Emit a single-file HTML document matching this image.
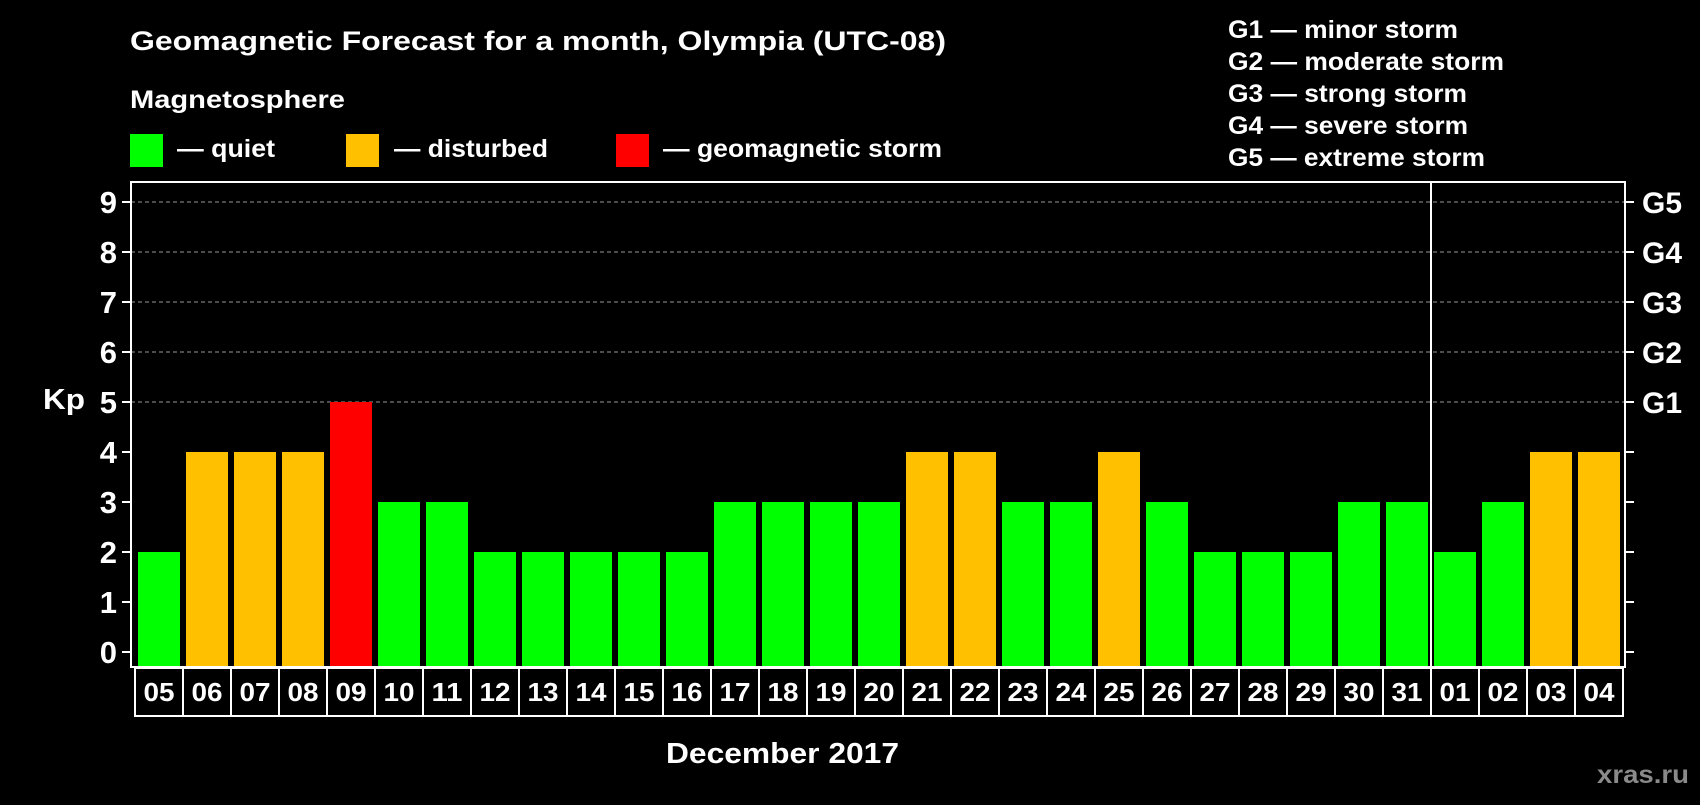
<!DOCTYPE html>
<html><head><meta charset="utf-8"><style>
body{margin:0;background:#000;width:1700px;height:800px;overflow:hidden;font-family:"Liberation Sans",Arial,sans-serif;font-weight:bold;color:#fff}
svg text{font-family:"Liberation Sans",Arial,sans-serif;font-weight:bold;fill:#fff}
</style></head><body>
<svg id="c" width="1700" height="800">
<text x="130" y="50" font-size="27" textLength="816" lengthAdjust="spacingAndGlyphs">Geomagnetic Forecast for a month, Olympia (UTC-08)</text>
<text x="130" y="108" font-size="25" textLength="215" lengthAdjust="spacingAndGlyphs">Magnetosphere</text>
<rect x="130" y="134" width="33" height="33" fill="#00ff00"/>
<text x="177" y="157" font-size="25" textLength="98" lengthAdjust="spacingAndGlyphs">— quiet</text>
<rect x="346" y="134" width="33" height="33" fill="#ffc000"/>
<text x="394" y="157" font-size="25" textLength="154" lengthAdjust="spacingAndGlyphs">— disturbed</text>
<rect x="616" y="134" width="33" height="33" fill="#ff0000"/>
<text x="663" y="157" font-size="25" textLength="279" lengthAdjust="spacingAndGlyphs">— geomagnetic storm</text>
<g font-size="25">
<text x="1228" y="38" textLength="230" lengthAdjust="spacingAndGlyphs">G1 — minor storm</text>
<text x="1228" y="70" textLength="276" lengthAdjust="spacingAndGlyphs">G2 — moderate storm</text>
<text x="1228" y="102" textLength="239" lengthAdjust="spacingAndGlyphs">G3 — strong storm</text>
<text x="1228" y="134" textLength="240" lengthAdjust="spacingAndGlyphs">G4 — severe storm</text>
<text x="1228" y="166" textLength="257" lengthAdjust="spacingAndGlyphs">G5 — extreme storm</text>
</g>
<text x="43" y="409" font-size="29" textLength="42" lengthAdjust="spacingAndGlyphs">Kp</text>
<text x="666" y="763" font-size="29" textLength="233" lengthAdjust="spacingAndGlyphs">December 2017</text>
<text x="1597" y="783" font-size="25" textLength="92" lengthAdjust="spacingAndGlyphs" style="fill:#8a8a8a">xras.ru</text>
<g id="plot"></g>
</svg>
<script>
const days=["05","06","07","08","09","10","11","12","13","14","15","16","17","18","19","20","21","22","23","24","25","26","27","28","29","30","31","01","02","03","04"];
const kp=[2,4,4,4,5,3,3,2,2,2,2,2,3,3,3,3,4,4,3,3,4,3,2,2,2,3,3,2,3,4,4];
const yTicks=[0,1,2,3,4,5,6,7,8,9];
const gLabels=["G1","G2","G3","G4","G5"];
const NS="http://www.w3.org/2000/svg";
const g=document.getElementById('plot');
const L=131,R=1625,T=182,B=667,X0=138,SLOT=48,BW=42;
const y=v=>652-v*50;
const x=i=>X0+i*SLOT;
function mk(t,a){const e=document.createElementNS(NS,t);for(const k in a)e.setAttribute(k,a[k]);g.appendChild(e);return e;}
yTicks.forEach(v=>{
 if(v>=5){const l=mk('line',{x1:L,x2:R,y1:y(v),y2:y(v),stroke:'#999','stroke-dasharray':'4,3','stroke-width':1});
 
 }
 const t1=mk('line',{x1:L-9,x2:L,y1:y(v),y2:y(v),stroke:'#fff','stroke-width':2});
 
 
 const t2=mk('line',{x1:R,x2:R+9,y1:y(v),y2:y(v),stroke:'#fff','stroke-width':2});
 
 
 const tx=mk('text',{x:117,y:y(v)+11,'font-size':31,'text-anchor':'end'});tx.textContent=v;
 
 
});
gLabels.forEach((s,i)=>{const tx=mk('text',{x:1642,y:y(5+i)+11,'font-size':30,textLength:40,lengthAdjust:'spacingAndGlyphs'});tx.textContent=s;
 
 });
kp.forEach((v,i)=>{
 const col=v>=5?'#ff0000':v>=4?'#ffc000':'#00ff00';
 const r=mk('rect',{x:x(i),y:y(v),width:BW,height:B-y(v),fill:col});
 
 
 const b=mk('rect',{x:x(i)-3,y:B+1,width:SLOT,height:48,fill:'none',stroke:'#fff','stroke-width':2});
 
 
 const t=mk('text',{x:x(i)+BW/2,y:B+34,'font-size':26,'text-anchor':'middle',textLength:31,lengthAdjust:'spacingAndGlyphs'});t.textContent=days[i];
 
 
});
const f=mk('rect',{x:L,y:T,width:R-L,height:B-T,fill:'none',stroke:'#fff','stroke-width':2});


const sep=x(days.indexOf("01"))-3;
const s=mk('line',{x1:sep,x2:sep,y1:T,y2:B+49,stroke:'#fff','stroke-width':2});


</script>
</body></html>
